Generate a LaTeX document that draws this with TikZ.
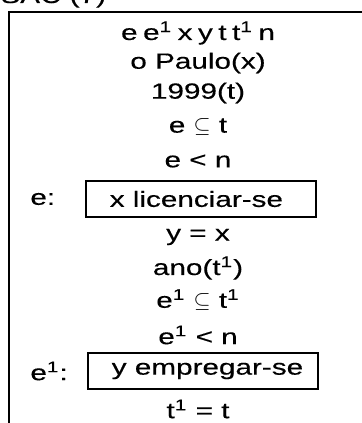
\documentclass[tikz,border=0pt]{standalone}
\usepackage{fontspec}
\setmainfont[FakeStretch=1.35,FakeBold=0.35]{Liberation Sans}
\newcommand{\gap}{\hspace{.25em}}
\begin{document}
\begin{tikzpicture}[x=0.5pt,y=-0.5pt,
  every node/.style={font=\fontsize{11}{13}\selectfont, inner sep=0pt},
  cond/.style={anchor=center},
  lbl/.style={anchor=west},
  predbox/.style={draw, line width=0.75pt, anchor=west, minimum height=18pt,
    minimum width=115pt}]
\useasboundingbox (0,0) rectangle (362,423);
% heading, cut by the top edge
\node[anchor=base west] (title) at (0,3) {SAC (7)};
% open frame of the structure
\coordinate (tl) at (9,12);
\coordinate (tr) at (362,12);
\coordinate (bl) at (9,423);
\draw[line width=1pt] (tr) -- (tl) -- (bl);
% universe and conditions
\node[cond] (u)   at (198,33)  {e\gap e\textsuperscript{1}\gap x\gap y\gap t\gap t\textsuperscript{1}\gap n};
\node[cond] (c1)  at (198,63)  {o Paulo(x)};
\node[cond] (c2)  at (198,93)  {1999(t)};
\node[cond] (c3)  at (198,127) {e $\subseteq$ t};
\node[cond] (c4)  at (198,161) {e < n};
\node[lbl]  (l1)  at (30,199)  {e:};
\node[predbox] (b1) at (85,199) {\makebox[115pt][l]{\hspace{12pt}x licenciar-se}};
\node[cond] (c5)  at (198,237) {y = x};
\node[cond] (c6)  at (198,268) {ano(t\textsuperscript{1})};
\node[cond] (c7)  at (198,300) {e\textsuperscript{1} $\subseteq$ t\textsuperscript{1}};
\node[cond] (c8)  at (198,335) {e\textsuperscript{1} < n};
\node[lbl]  (l2)  at (30,371)  {e\textsuperscript{1}:};
\node[predbox] (b2) at (87,371) {\makebox[115pt][l]{\hspace{12pt}y empregar-se}};
\node[cond] (c9)  at (198,409) {t\textsuperscript{1} = t};
\end{tikzpicture}
\end{document}
